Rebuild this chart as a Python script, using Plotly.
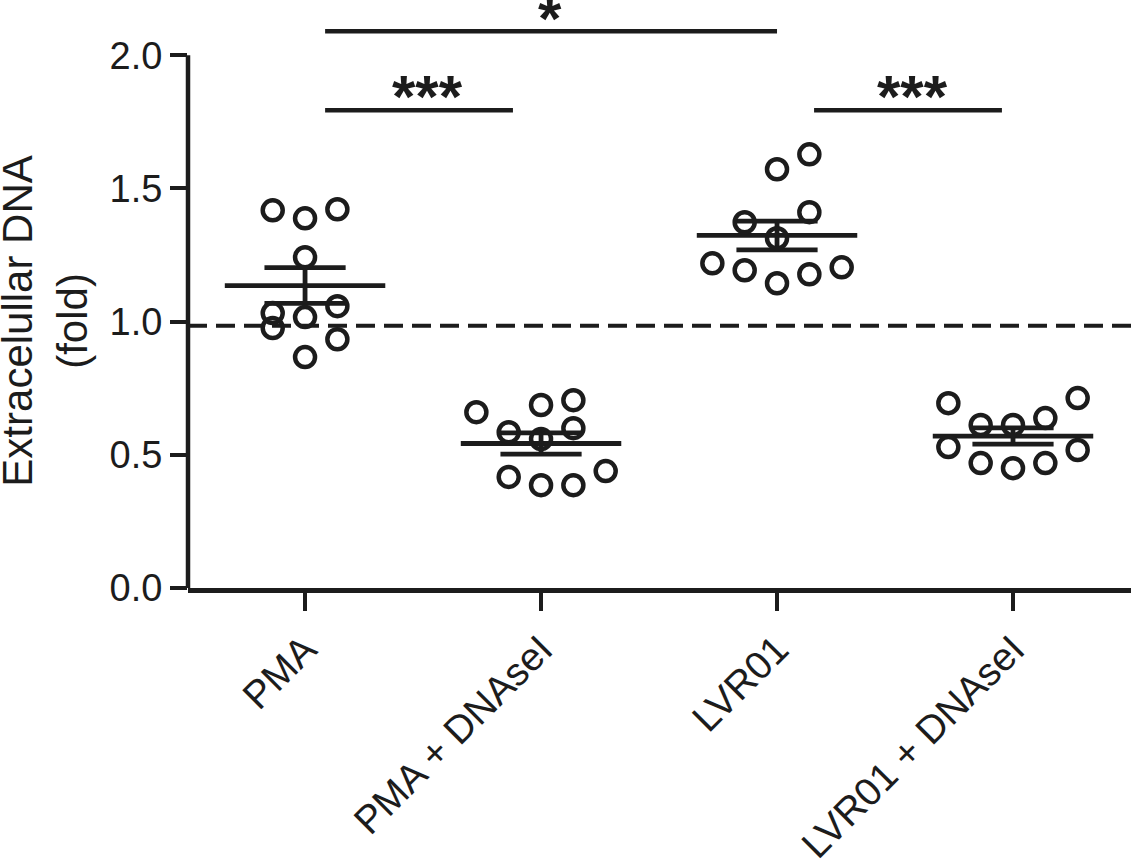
"""
Extracellular DNA fold change per treatment - column scatter with mean +/- SEM
"""

import numpy as np
import plotly.graph_objects as go

groups = ["PMA", "PMA + DNAseI", "LVR01", "LVR01 + DNAseI"]

# fold values
pma = [1.418, 1.388, 1.422, 1.242, 1.032, 1.058, 1.017, 0.976, 0.934, 0.867]
pma_dnase = [0.660, 0.687, 0.705, 0.585, 0.600, 0.559, 0.417, 0.386, 0.386, 0.439]
lvr01 = [1.572, 1.628, 1.373, 1.411, 1.313, 1.219, 1.193, 1.144, 1.178, 1.204]
lvr01_dnase = [0.694, 0.612, 0.612, 0.638, 0.713, 0.529, 0.469, 0.450, 0.469, 0.518]

# column slot of each point (horizontal scatter inside a group)
pma_slots = [-1, 0, 1, 0, -1, 1, 0, -1, 1, 0]
pma_dnase_slots = [-2, 0, 1, -1, 1, 0, -1, 0, 1, 2]
lvr01_slots = [0, 1, -1, 1, 0, -2, -1, 0, 1, 2]
lvr01_dnase_slots = [-2, -1, 0, 1, 2, -2, -1, 0, 1, 2]

baseline = 0.985
y_ticks = [0.0, 0.5, 1.0, 1.5, 2.0]
y_tick_labels = ["0.0", "0.5", "1.0", "1.5", "2.0"]

# significance bars: x start, x end, y, label, label x, label lift (px)
brackets = [
    (0.085, 2.0, 2.09, "*", 1.04, 13),
    (0.085, 0.881, 1.794, "***", 0.52, 14),
    (2.157, 2.953, 1.794, "***", 2.576, 14),
]

ink = "#1c1c1c"
font = "Liberation Sans, Arial, sans-serif"

series = [pma, pma_dnase, lvr01, lvr01_dnase]
slots = [pma_slots, pma_dnase_slots, lvr01_slots, lvr01_dnase_slots]

fig = go.Figure()

for i, (vals, sl) in enumerate(zip(series, slots)):
    vals = np.array(vals)
    m = vals.mean()
    sem = vals.std(ddof=1) / np.sqrt(len(vals))
    xs = [i - 0.34, i + 0.34, None,
          i - 0.172, i + 0.172, None,
          i - 0.172, i + 0.172, None,
          i, i]
    ys = [m, m, None,
          m + sem, m + sem, None,
          m - sem, m - sem, None,
          m - sem, m + sem]
    fig.add_trace(go.Scatter(x=xs, y=ys, mode="lines",
                             line=dict(color=ink, width=4.8),
                             hoverinfo="skip"))
    fig.add_trace(go.Scatter(x=[i + s * 0.137 for s in sl], y=vals,
                             mode="markers", name=groups[i],
                             marker=dict(symbol="circle-open", size=20, color=ink,
                                         line=dict(color=ink, width=4.5))))

# y axis line only spans 0..2
fig.add_shape(type="line", xref="x domain", yref="y", x0=0, x1=0, y0=0, y1=2.0,
              line=dict(color=ink, width=4.5))
# reference line at 1-fold
fig.add_shape(type="line", xref="x domain", yref="y", x0=0, x1=1, y0=baseline, y1=baseline,
              line=dict(color=ink, width=4, dash="19px,9px"))

for x0, x1, y, label, lx, lift in brackets:
    fig.add_shape(type="line", xref="x", yref="y", x0=x0, x1=x1, y0=y, y1=y,
                  line=dict(color=ink, width=4.5))
    fig.add_annotation(x=lx, y=y, xref="x", yref="y", text=label, showarrow=False,
                       yanchor="middle", yshift=lift,
                       font=dict(family=font, size=60, color=ink, weight="bold"))

fig.add_annotation(text="Extracelullar DNA<br>(fold)", xref="paper", yref="y",
                   x=0, y=1.0, xanchor="center", yanchor="middle", xshift=-143,
                   textangle=-90, showarrow=False,
                   font=dict(family=font, size=42, color=ink))

fig.update_layout(
    width=1137, height=862,
    margin=dict(l=188, r=6, t=2, b=274),
    showlegend=False,
    plot_bgcolor="white", paper_bgcolor="white",
    font=dict(family=font, color=ink),
)
fig.update_xaxes(range=[-0.496, 3.5], tickvals=[0, 1, 2, 3], ticktext=groups,
                 tickangle=-45, ticks="outside", ticklen=18, tickwidth=4, tickcolor=ink,
                 showline=True, linewidth=4.5, linecolor=ink,
                 showgrid=False, zeroline=False, automargin=False,
                 tickfont=dict(family=font, size=39, color=ink))
fig.update_yaxes(range=[0, 2.2], tickvals=y_ticks, ticktext=y_tick_labels,
                 ticks="outside", ticklen=17, tickwidth=4, tickcolor=ink,
                 showline=False, showgrid=False, zeroline=False, automargin=False,
                 tickfont=dict(family=font, size=38, color=ink))

# drop the browser's default body margin so the figure sits at the page corner
fig.write_html("out.html", config={"displayModeBar": False},
               post_script="document.body.style.margin='0';")
